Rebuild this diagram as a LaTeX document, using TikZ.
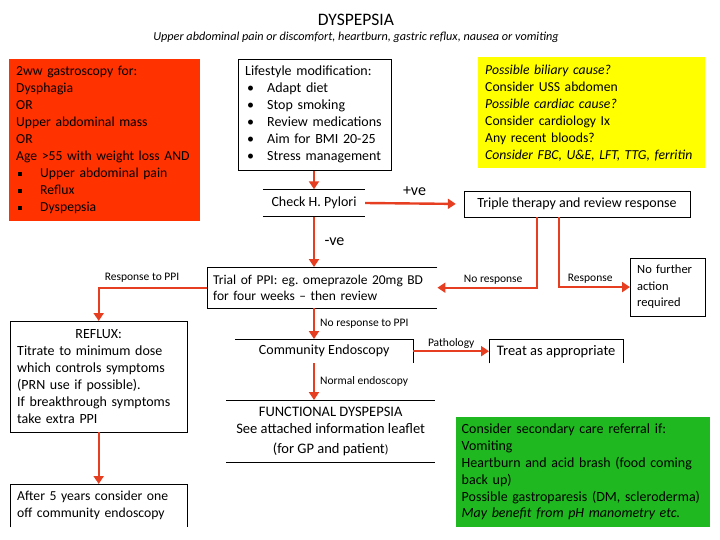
\documentclass[tikz,border=0pt]{standalone}
\usepackage{fontspec}
\setmainfont{Carlito}
\usetikzlibrary{arrows.meta}
\definecolor{flowred}{RGB}{230,62,32}
\definecolor{alarmred}{RGB}{255,50,0}
\definecolor{hintyellow}{RGB}{255,255,0}
\definecolor{referralgreen}{RGB}{32,184,32}
\newcommand{\bodyfont}{\fontsize{14}{17}\selectfont}
\newcommand{\boxfont}{\fontsize{13.7}{17}\selectfont}
\newcommand{\labelfont}{\fontsize{11.5}{13}\selectfont}
\newcommand{\sq}{\makebox[24pt][l]{\hspace{2pt}\raisebox{2pt}{\rule{3.5pt}{3.5pt}}}}
\newcommand{\bul}{\makebox[22pt][l]{\hspace{2pt}\textbullet}}
\begin{document}
\begin{tikzpicture}[x=1pt,y=-1pt,>={Triangle[length=8pt,width=10pt]},
  panel/.style={anchor=north west, align=left, inner sep=7pt, font=\boxfont},
  flow/.style={->, draw=flowred, line width=2.4pt},
  tag/.style={font=\labelfont, inner sep=2pt},
  sign/.style={font=\fontsize{16}{18}\selectfont}]
\useasboundingbox (0,0) rectangle (720,540);
% heading
\node[font=\fontsize{17.5}{20}\selectfont] (title) at (356,20) {DYSPEPSIA};
\node[font=\fontsize{12.2}{14}\selectfont\itshape] (sub) at (356,37) {Upper abdominal pain or discomfort, heartburn, gastric reflux, nausea or vomiting};
% top row
\node[panel, fill=alarmred, minimum width=191pt, minimum height=162pt, text width=177pt] (gastro) at (9,59)
  {2ww gastroscopy for:\\Dysphagia\\OR\\Upper abdominal mass\\OR\\Age >55 with weight loss AND\\
   \sq Upper abdominal pain\\\sq Reflux\\\sq Dyspepsia};
\node[panel, draw, font=\bodyfont, minimum width=153pt, minimum height=108pt, text width=139pt] (life) at (238,59)
  {Lifestyle modification:\\\bul Adapt diet\\\bul Stop smoking\\\bul Review medications\\\bul Aim for BMI 20-25\\\bul Stress management};
\node[panel, fill=hintyellow, minimum width=227pt, minimum height=111pt, text width=213pt] (bloods) at (478,57)
  {\textit{Possible biliary cause?}\\Consider USS abdomen\\\textit{Possible cardiac cause?}\\Consider cardiology Ix\\Any recent bloods?\\\textit{Consider FBC, U\&E, LFT, TTG, ferritin}};
% h. pylori
\node[font=\bodyfont, minimum width=102pt, minimum height=27pt] (check) at (314,203) {Check H. Pylori};
\draw (check.north west) -- (check.north east) (check.south west) -- (check.south east);
\node[font=\bodyfont, draw, minimum width=226pt, minimum height=26pt] (triple) at (577,204) {Triple therapy and review response};
\node[panel, draw, font=\fontsize{12.5}{16.5}\selectfont, minimum width=75pt, minimum height=57pt, text width=61pt] (nofurther) at (630,258) {No further\\action\\required};
% ppi
\node[panel, font=\fontsize{13.5}{16}\selectfont, inner xsep=6pt, minimum width=230pt, minimum height=41pt, text width=218pt] (trial) at (207,267)
  {Trial of PPI: eg.\ omeprazole 20mg BD\\for four weeks -- then review};
\draw (trial.north east) -- (trial.north west) -- (trial.south west) -- (trial.south east);
\node[panel, draw, font=\bodyfont, minimum width=177pt, minimum height=111pt, text width=163pt] (reflux) at (10,321)
  {\makebox[163pt]{REFLUX:}\\Titrate to minimum dose\\which controls symptoms\\(PRN use if possible).\\If breakthrough symptoms\\take extra PPI};
\node[panel, minimum width=177pt, minimum height=43pt, text width=163pt] (after) at (10,484)
  {After 5 years consider one\\off community endoscopy};
\draw (after.south west) -- (after.north west) -- (after.north east) -- (after.south east);
% endoscopy
\node[font=\bodyfont, minimum width=178pt, minimum height=24pt, anchor=north west] (comm) at (235,339) {Community Endoscopy};
\draw (comm.north west) -- (comm.north east) -- (comm.south east);
\node[font=\fontsize{14.5}{17}\selectfont, minimum width=134pt, minimum height=24pt, anchor=north west] (treat) at (489,339) {Treat as appropriate};
\draw (treat.south west) -- (treat.north west) -- (treat.north east) -- (treat.south east);
\node[font=\fontsize{14.5}{17}\selectfont, align=center, minimum width=209pt, minimum height=62pt, anchor=north west] (funct) at (226,400)
  {FUNCTIONAL DYSPEPSIA\\See attached information leaflet\\[3pt](for GP and patient{\large)}};
\draw (funct.north west) -- (funct.north east) (funct.south west) -- (funct.south east);
\node[panel, fill=referralgreen, font=\fontsize{14}{16.8}\selectfont, minimum width=254pt, minimum height=110pt, text width=243pt, inner xsep=5.5pt] (green) at (456,417)
  {Consider secondary care referral if:\\Vomiting\\\mbox{Heartburn and acid brash (food coming}\\back up)\\\mbox{Possible gastroparesis (DM, scleroderma)}\\\textit{May benefit from pH manometry etc.}};
% arrows
\draw[flow] (life.south -| check.north) -- (check.north);
\draw[flow, shorten >=8pt] (check.east) -- node[sign, above=3pt] {+ve} (triple.west);
\draw[flow] (check.south) -- node[sign, right=6pt] {-ve} (check.south |- trial.north);
\draw[flow] ([xshift=-40pt]triple.south) |- node[tag, above, pos=0.72] {No response} (trial.east);
\draw[flow] ([xshift=-18pt]triple.south) |- node[tag, above, pos=0.72] {Response} (nofurther.west);
\draw[flow] (trial.west) -| node[tag, above=2pt, pos=0.3] {Response to PPI} (reflux.north);
\draw[flow] (reflux.south) -- (after.north);
\draw[flow] (check.south |- trial.south) -- node[tag, right=3pt] {No response to PPI} (check.south |- comm.north);
\draw[flow] (comm.east) -- node[tag, above] {Pathology} (treat.west);
\draw[flow] (check.south |- comm.south) -- node[tag, right=3pt] {Normal endoscopy} (check.south |- funct.north);
\end{tikzpicture}
\end{document}
